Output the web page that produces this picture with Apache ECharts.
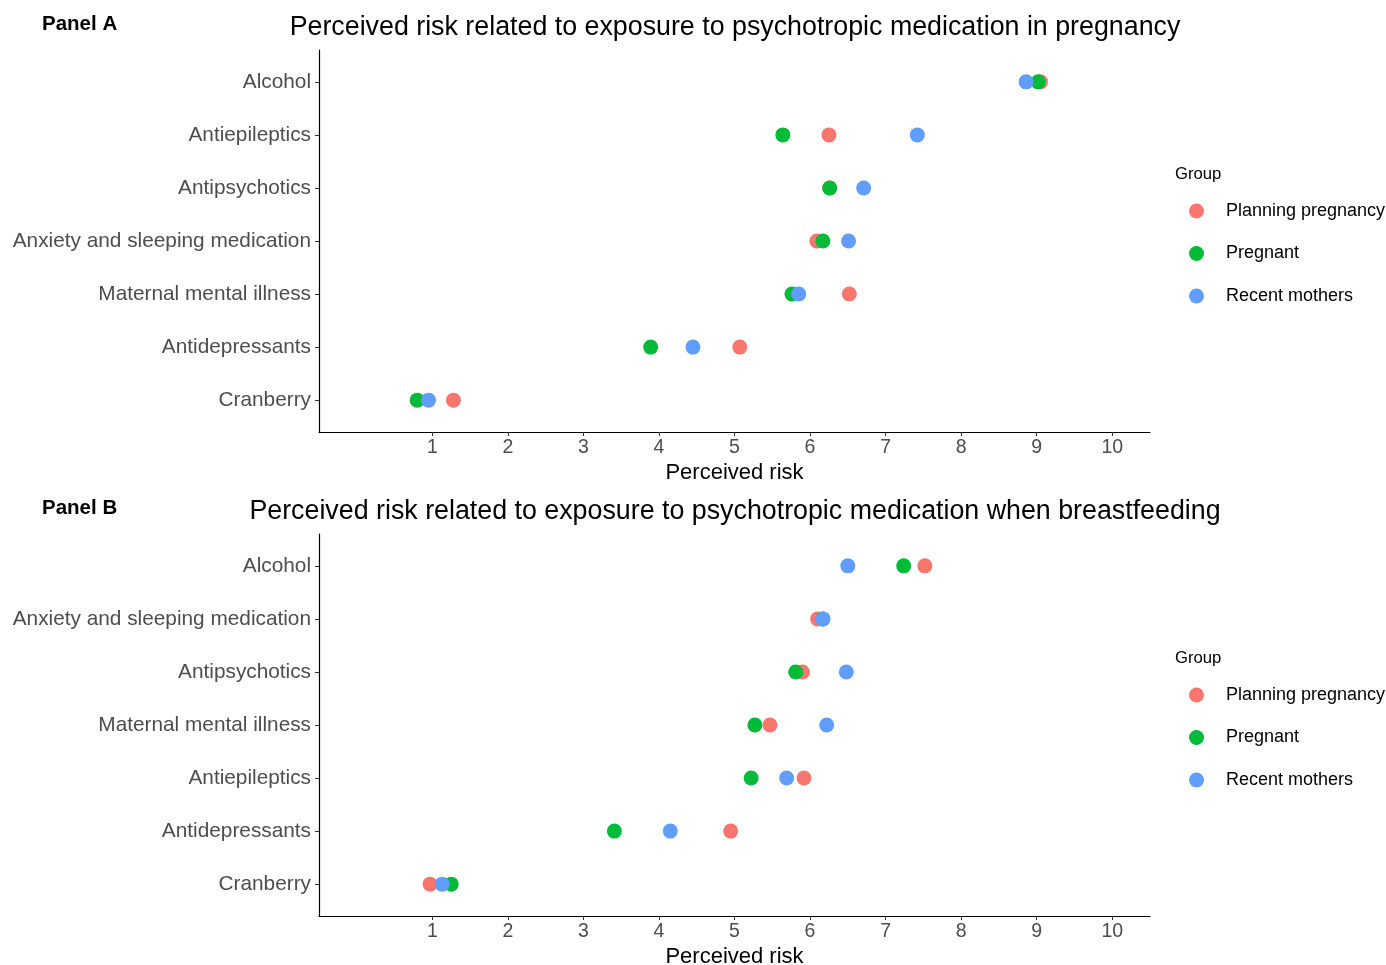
<!DOCTYPE html>
<html>
<head>
<meta charset="utf-8">
<script src="https://cdn.jsdelivr.net/npm/echarts@6/dist/echarts.min.js"></script>
<style>
  html, body { margin: 0; padding: 0; background: #fff; }
  #chart { width: 1386px; height: 965px; }
</style>
</head>
<body>
<div id="chart"></div>
<script>
// Panel A - pregnancy
var categoriesA = ['Alcohol', 'Antiepileptics', 'Antipsychotics', 'Anxiety and sleeping medication',
  'Maternal mental illness', 'Antidepressants', 'Cranberry'];
var planningA = [9.05, 6.25, 6.26, 6.09, 6.52, 5.07, 1.28];
var pregnantA = [9.02, 5.64, 6.26, 6.17, 5.76, 3.89, 0.80];
var recentA   = [8.86, 7.42, 6.71, 6.51, 5.85, 4.45, 0.95];

// Panel B - breastfeeding
var categoriesB = ['Alcohol', 'Anxiety and sleeping medication', 'Antipsychotics', 'Maternal mental illness',
  'Antiepileptics', 'Antidepressants', 'Cranberry'];
var planningB = [7.52, 6.10, 5.90, 5.47, 5.92, 4.95, 0.97];
var pregnantB = [7.24, 6.17, 5.81, 5.27, 5.22, 3.41, 1.25];
var recentB   = [6.50, 6.17, 6.48, 6.22, 5.69, 4.15, 1.13];

var groups = ['Planning pregnancy', 'Pregnant', 'Recent mothers'];
var colors = ['#F8766D', '#00BA38', '#619CFF'];
var xTicks = [1, 2, 3, 4, 5, 6, 7, 8, 9, 10];
var rows = [0, 1, 2, 3, 4, 5, 6];

var font = 'Liberation Sans, Arial, Helvetica, sans-serif';

function pairs(vals) {
  // x = value, y = row index
  return vals.map(function (v, i) { return [v, i]; });
}

function xAxisFor(idx) {
  return {
    type: 'value', gridIndex: idx, min: -0.5, max: 10.5,
    name: 'Perceived risk', nameLocation: 'middle', nameGap: 30,
    nameTextStyle: { color: '#000', fontSize: 22, fontFamily: font },
    axisLine: { show: true, onZero: false, lineStyle: { color: '#000', width: 1.2 } },
    axisTick: { show: true, length: 4, lineStyle: { color: '#333' }, customValues: xTicks },
    axisLabel: { color: '#4d4d4d', fontSize: 19.5, fontFamily: font, margin: 6, customValues: xTicks },
    splitLine: { show: false }
  };
}

function yAxisFor(idx, cats) {
  return {
    type: 'value', gridIndex: idx, min: -0.6, max: 6.6, inverse: true,
    axisLine: { show: true, onZero: false, lineStyle: { color: '#000', width: 1.2 } },
    axisTick: { show: true, length: 4, lineStyle: { color: '#333' }, customValues: rows },
    axisLabel: {
      color: '#4d4d4d', fontSize: 20.8, fontFamily: font, margin: 8,
      padding: [3, 0, 0, 0],
      customValues: rows,
      formatter: function (v) { return cats[Math.round(v)] || ''; }
    },
    splitLine: { show: false }
  };
}

function seriesFor(idx, lists) {
  return lists.map(function (vals, k) {
    return {
      name: groups[k], type: 'scatter', xAxisIndex: idx, yAxisIndex: idx,
      symbolSize: 15, data: pairs(vals), z: 2 + k,
      itemStyle: { color: colors[k], opacity: 1 }
    };
  });
}

function legendFor(top) {
  return {
    orient: 'vertical', left: 1189, top: top, padding: 0,
    icon: 'circle', itemWidth: 15, itemHeight: 15, itemGap: 22.5,
    textStyle: { color: '#000', fontSize: 18, fontFamily: font, lineHeight: 20, padding: [0, 0, 0, 17] },
    data: groups
  };
}

function titleText(text, left, top, size, weight, center) {
  var t = {
    text: text, left: left, top: top, padding: 0,
    textStyle: { fontSize: size, fontWeight: weight, color: '#000', fontFamily: font }
  };
  if (center) t.textAlign = 'center';
  return t;
}

var chart = echarts.init(document.getElementById('chart'), null, { renderer: 'canvas' });

chart.setOption({
  backgroundColor: '#fff',
  animation: false,
  title: [
    titleText('Panel A', 42, 14, 20.5, 'bold'),
    titleText('Perceived risk related to exposure to psychotropic medication in pregnancy', 735, 14, 26.8, 'normal', true),
    titleText('Panel B', 42, 498, 20.5, 'bold'),
    titleText('Perceived risk related to exposure to psychotropic medication when breastfeeding', 735, 498, 26.8, 'normal', true),
    titleText('Group', 1175, 166, 16.7, 'normal'),
    titleText('Group', 1175, 650, 16.7, 'normal')
  ],
  legend: [legendFor(201), legendFor(685)],
  grid: [
    { left: 319, top: 50, width: 831, height: 382, outerBoundsMode: 'none' },
    { left: 319, top: 534, width: 831, height: 382, outerBoundsMode: 'none' }
  ],
  xAxis: [xAxisFor(0), xAxisFor(1)],
  yAxis: [yAxisFor(0, categoriesA), yAxisFor(1, categoriesB)],
  series: seriesFor(0, [planningA, pregnantA, recentA]).concat(seriesFor(1, [planningB, pregnantB, recentB]))
});
</script>
</body>
</html>
